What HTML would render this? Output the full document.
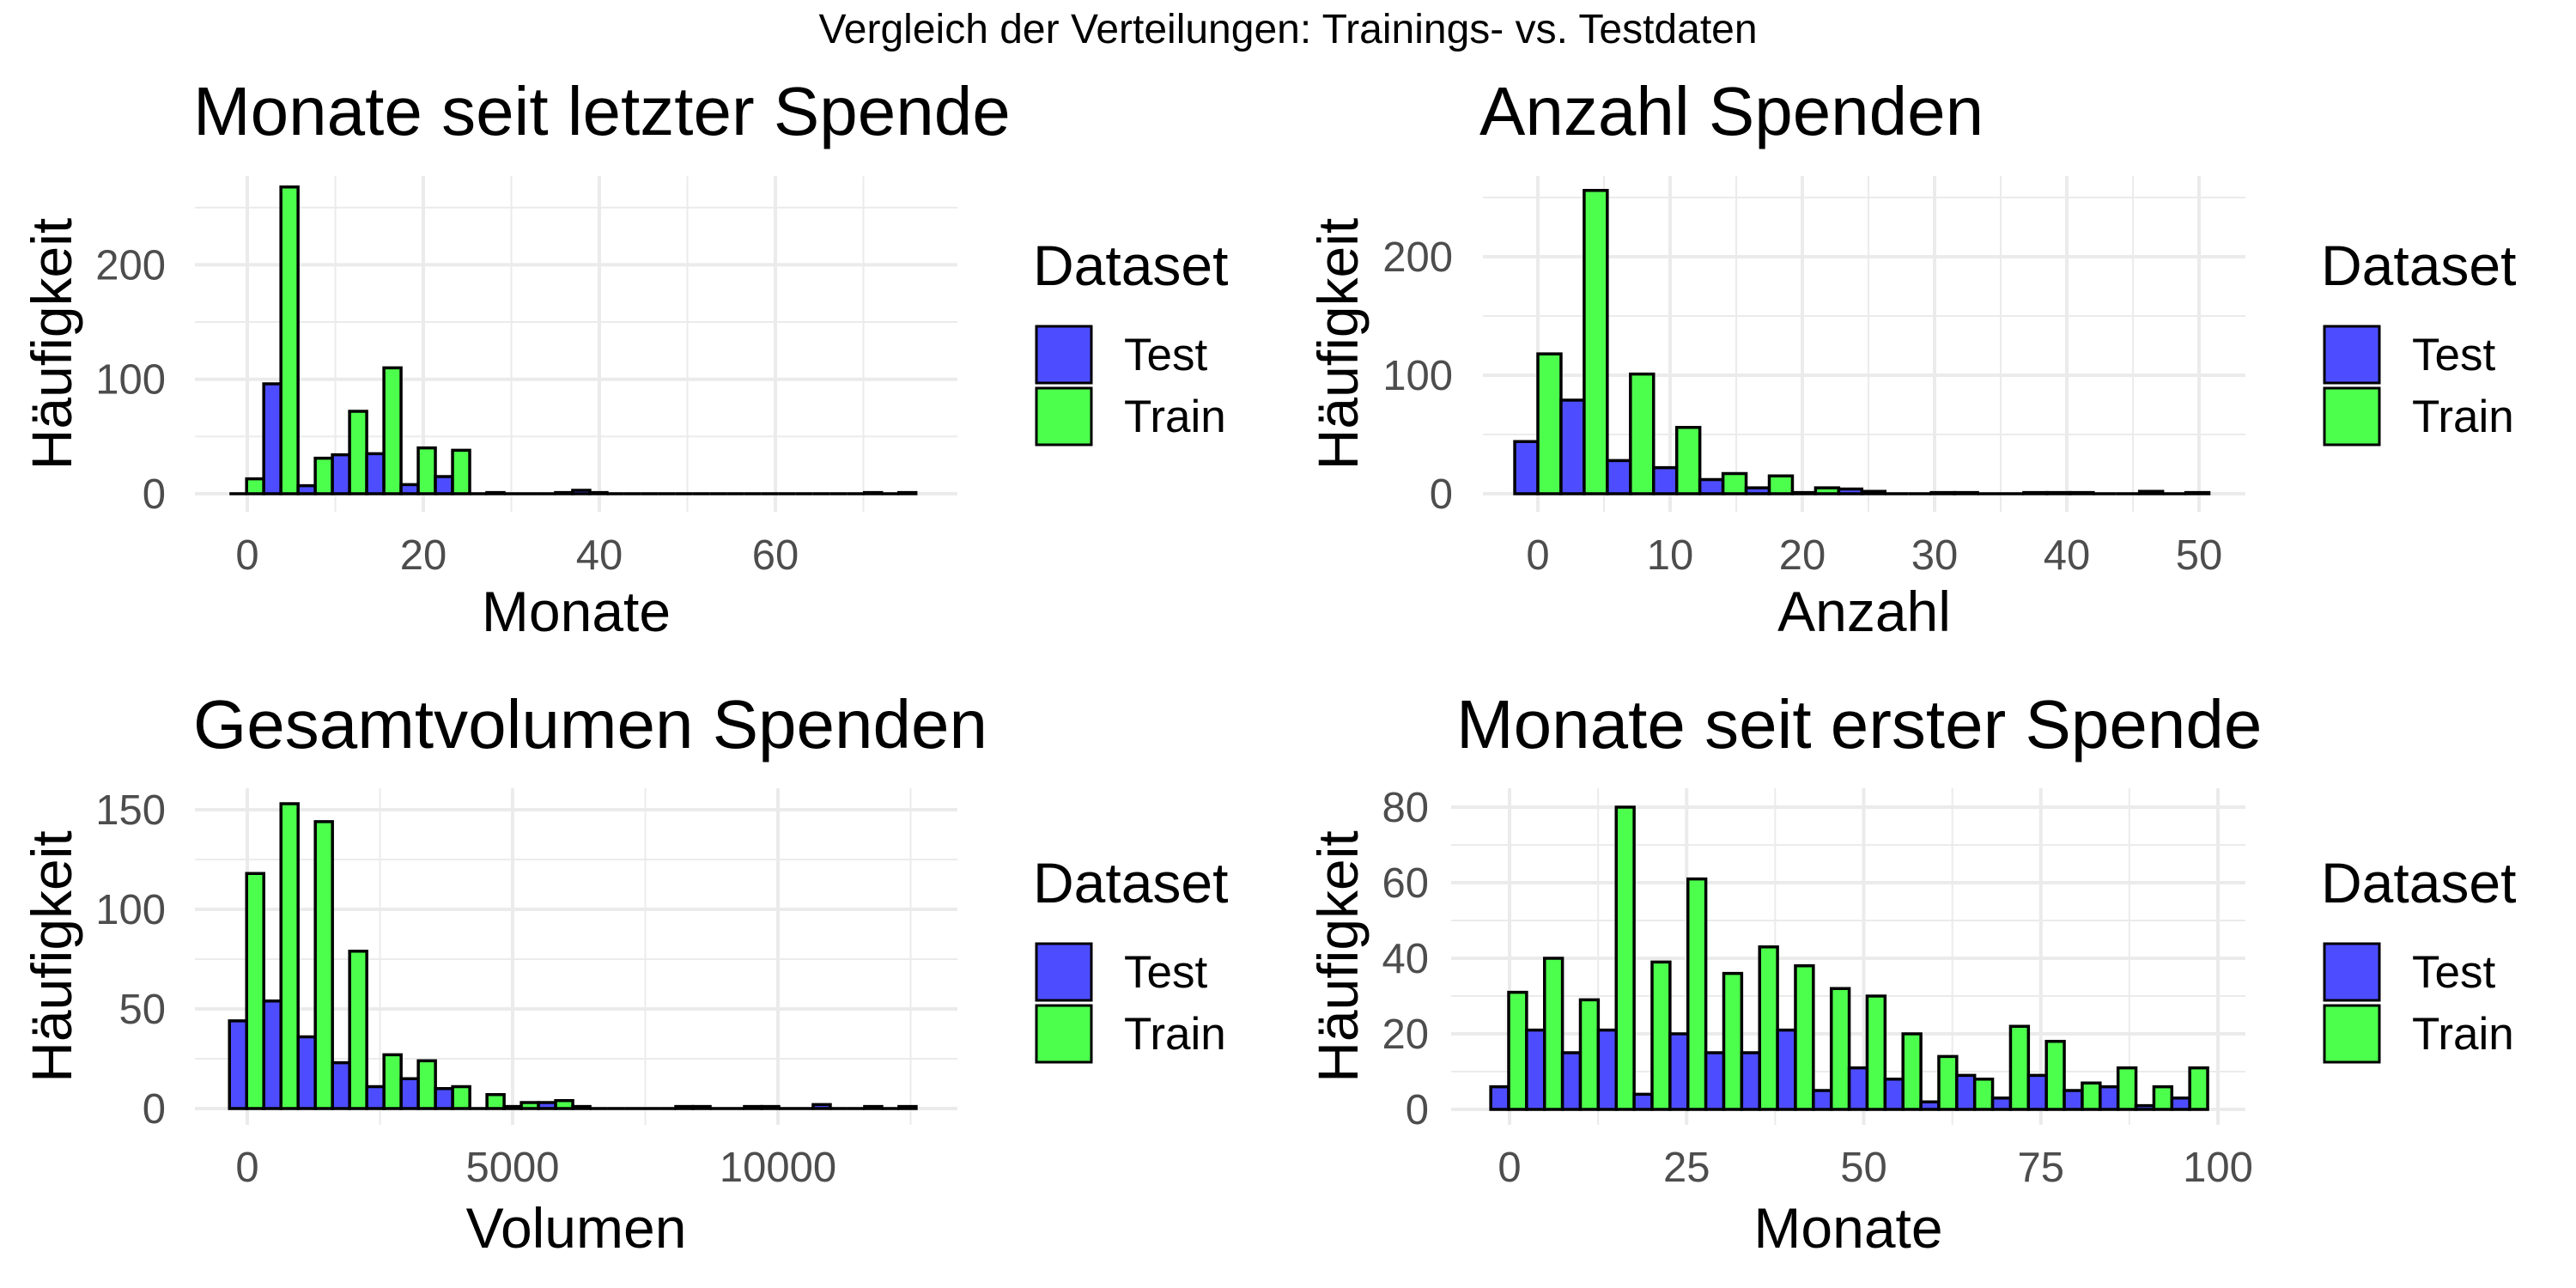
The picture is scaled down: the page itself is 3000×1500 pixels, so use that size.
<!DOCTYPE html>
<html><head><meta charset="utf-8">
<style>
html,body{margin:0;padding:0;background:#fff;}
svg{display:block;font-family:"Liberation Sans",Arial,sans-serif;}
</style></head>
<body>
<svg id="chart" width="3000" height="1500" viewBox="0 0 3000 1500" xmlns="http://www.w3.org/2000/svg">
<rect x="0" y="0" width="3000" height="1500" fill="#fff"/>
<text x="1500" y="50" text-anchor="middle" font-size="48" fill="#000">Vergleich der Verteilungen: Trainings- vs. Testdaten</text>
</svg>
<script>
// ---- data ----
const p1Test  = [0,96,7,34,35,8,15,0,0,0,3,0,0,0,0,0,0,0,0,0];
const p1Train = [13,268,31,72,110,40,38,1,0,1,1,0,0,0,0,0,0,0,1,1];
const p1BinStart = -2.03, p1BinWidth = 3.9;
const p1XTicks = [0,20,40,60];
const p1YTicks = [0,100,200];

const p2Test  = [44,79,28,22,12,5,1,4,0,1,0,1,1,0,0];
const p2Train = [118,256,101,56,17,15,5,2,0,1,0,1,0,2,1];
const p2BinStart = -1.75, p2BinWidth = 3.5;
const p2XTicks = [0,10,20,30,40,50];
const p2YTicks = [0,100,200];

const p3Test  = [44,54,36,23,11,15,10,0,1,3,1,0,0,1,0,1,0,2,0,0];
const p3Train = [118,153,144,79,27,24,11,7,3,4,0,0,0,1,0,1,0,0,1,1];
const p3BinStart = -336, p3BinWidth = 647;
const p3XTicks = [0,5000,10000];
const p3YTicks = [0,50,100,150];

const p4Test  = [6,21,15,21,4,20,15,15,21,5,11,8,2,9,3,9,5,6,1,3];
const p4Train = [31,40,29,80,39,61,36,43,38,32,30,20,14,8,22,18,7,11,6,11];
const p4BinStart = -2.65, p4BinWidth = 5.06;
const p4XTicks = [0,25,50,75,100];
const p4YTicks = [0,20,40,60,80];

const legendLabels = ["Test","Train"];
// ---- layout ----
const NS = "http://www.w3.org/2000/svg";
const svg = document.getElementById("chart");
function mk(tag, attrs, parent){
  const e = document.createElementNS(NS, tag);
  for (const k in attrs) e.setAttribute(k, attrs[k]);
  (parent||svg).appendChild(e);
  return e;
}
const panels = [
 {id:"p1", title:"Monate seit letzter Spende", xlab:"Monate", test:p1Test, train:p1Train, bs:p1BinStart, bw:p1BinWidth, xt:p1XTicks, yt:p1YTicks,
  left:227,right:1115,top:205,bottom:596, x0:288,xs:10.25, y0:575,ys:1.333, titleX:225,titleY:157, yTickRight:193, yTitleX:83, xTickY:663, xTitleY:735, legX:1203, legTop:308},
 {id:"p2", title:"Anzahl Spenden", xlab:"Anzahl", test:p2Test, train:p2Train, bs:p2BinStart, bw:p2BinWidth, xt:p2XTicks, yt:p2YTicks,
  left:1727,right:2615,top:205,bottom:596, x0:1791,xs:15.4, y0:575,ys:1.38, titleX:1723,titleY:157, yTickRight:1692, yTitleX:1581, xTickY:663, xTitleY:735, legX:2703, legTop:308},
 {id:"p3", title:"Gesamtvolumen Spenden", xlab:"Volumen", test:p3Test, train:p3Train, bs:p3BinStart, bw:p3BinWidth, xt:p3XTicks, yt:p3YTicks,
  left:227,right:1115,top:918,bottom:1310, x0:288,xs:0.0618, y0:1291,ys:2.32, titleX:225,titleY:871, yTickRight:193, yTitleX:83, xTickY:1376, xTitleY:1453, legX:1203, legTop:1027},
 {id:"p4", title:"Monate seit erster Spende", xlab:"Monate", test:p4Test, train:p4Train, bs:p4BinStart, bw:p4BinWidth, xt:p4XTicks, yt:p4YTicks,
  left:1690,right:2615,top:918,bottom:1310, x0:1758,xs:8.25, y0:1292,ys:4.4, titleX:1696,titleY:871, yTickRight:1664, yTitleX:1581, xTickY:1376, xTitleY:1453, legX:2703, legTop:1027}
];
panels.forEach(p=>{
  const X = v => p.x0 + p.xs*v;
  const Y = v => p.y0 - p.ys*v;
  const g = mk("g",{});
  
  
  const xStep = p.xt[1]-p.xt[0], yStep = p.yt[1]-p.yt[0];
  for (let i=-1;i<p.xt.length;i++){
    const v = p.xt[0]+xStep*(i+0.5), px = X(v);
    if (px>p.left && px<p.right){
      const l = mk("line",{x1:px,x2:px,y1:p.top,y2:p.bottom,stroke:"#ebebeb","stroke-width":2},g);
      
      
    }
  }
  for (let i=-1;i<p.yt.length+1;i++){
    const v = p.yt[0]+yStep*(i+0.5), py = Y(v);
    if (py>p.top && py<p.bottom){
      const l = mk("line",{x1:p.left,x2:p.right,y1:py,y2:py,stroke:"#ebebeb","stroke-width":2},g);
      
      
    }
  }
  p.xt.forEach(v=>{
    const px = X(v);
    const l = mk("line",{x1:px,x2:px,y1:p.top,y2:p.bottom,stroke:"#ebebeb","stroke-width":4},g);
    
    
    const t = mk("text",{x:px,y:p.xTickY,"text-anchor":"middle","font-size":49,fill:"#4d4d4d"},g);
    t.textContent = v;
    
    
  });
  p.yt.forEach(v=>{
    const py = Y(v);
    const l = mk("line",{x1:p.left,x2:p.right,y1:py,y2:py,stroke:"#ebebeb","stroke-width":4},g);
    
    
    const t = mk("text",{x:p.yTickRight,y:py+17,"text-anchor":"end","font-size":49,fill:"#4d4d4d"},g);
    t.textContent = v;
    
    
  });
  function bar(x1,x2,v,fill,name){
    const yb = Y(0), yt = Y(v);
    const d = "M"+x1+","+yb+"L"+x1+","+yt+"L"+x2+","+yt+"L"+x2+","+yb+"Z";
    const e = mk("path",{d:d,fill:fill,stroke:"#000","stroke-width":3.5,"stroke-linejoin":"miter"},g);
    
    
  }
  for (let i=0;i<p.test.length;i++){
    const a = p.bs + p.bw*i, m = a + p.bw/2, b = a + p.bw;
    bar(X(a),X(m),p.test[i],"#4d4dff","bar-test");
    bar(X(m),X(b),p.train[i],"#4dff4d","bar-train");
  }
  const tt = mk("text",{x:p.titleX,y:p.titleY,"font-size":80,fill:"#000"},g);
  tt.textContent = p.title;
  
  
  const xt = mk("text",{x:(p.left+p.right)/2,y:p.xTitleY,"text-anchor":"middle","font-size":66,fill:"#000"},g);
  xt.textContent = p.xlab;
  
  
  const cy = (p.top+p.bottom)/2;
  const yt = mk("text",{x:0,y:0,"text-anchor":"middle","font-size":66,fill:"#000",transform:"translate("+p.yTitleX+" "+cy+") rotate(-90)"},g);
  yt.textContent = "Häufigkeit";
  
  
  const lg = mk("g",{},g);
  
  
  const lt = mk("text",{x:p.legX,y:p.legTop+24,"font-size":66,fill:"#000"},lg);
  lt.textContent = "Dataset";
  
  
  const cols = ["#4d4dff","#4dff4d"];
  legendLabels.forEach((lab,k)=>{
    const by = p.legTop + 72 + k*72;
    const r = mk("rect",{x:p.legX+4,y:by,width:64,height:66,fill:cols[k],stroke:"#000","stroke-width":3},lg);
    
    
    const t = mk("text",{x:p.legX+106,y:by+51,"font-size":53,fill:"#000"},lg);
    t.textContent = lab;
    
    
  });
});
</script>
</body></html>
